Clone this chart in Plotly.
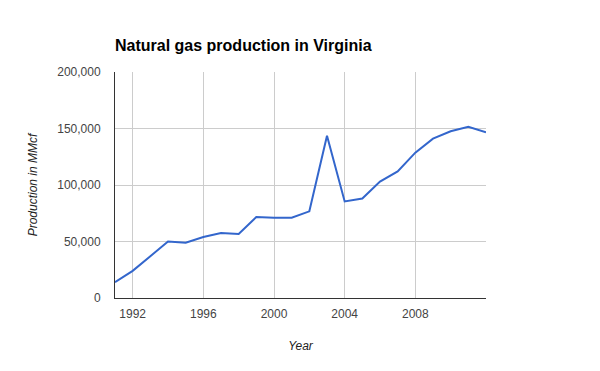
import plotly.graph_objects as go

years = list(range(1991, 2013))
production = [14000, 24000, 37000, 50000, 49000, 54000, 57500, 56600, 71700, 71000,
              71000, 76700, 143600, 85500, 88000, 103000, 112000, 128600, 141000,
              147500, 151600, 146600]
x_ticks = [1992, 1996, 2000, 2004, 2008]
y_ticks = [0, 50000, 100000, 150000, 200000]
y_tick_labels = ["0", "50,000", "100,000", "150,000", "200,000"]

fig = go.Figure(go.Scatter(x=years, y=production, mode="lines",
                           line=dict(color="#3366cc", width=2)))

fig.update_layout(
    width=600, height=371,
    margin=dict(l=115, r=114, t=72, b=73),
    paper_bgcolor="white", plot_bgcolor="white",
    font=dict(family="Liberation Sans, Arial", size=12, color="#444"),
    showlegend=False,
    title=dict(text="<b>Natural gas production in Virginia</b>",
               x=115/600, xanchor="left", xref="container",
               y=1-45/371, yanchor="middle", yref="container",
               font=dict(size=16, color="black", family="Liberation Sans, Arial")),
    xaxis=dict(range=[1991, 2012], tickvals=x_ticks, ticktext=[str(v) for v in x_ticks],
               showgrid=True, gridcolor="#cccccc", gridwidth=1,
               showline=True, linecolor="#333333", linewidth=1,
               zeroline=False, ticks="", ticklabelstandoff=5,
               tickfont=dict(size=12, color="#444"),
               title=dict(text="<i>Year</i>", standoff=21,
                          font=dict(size=12, color="#222"))),
    yaxis=dict(range=[0, 200000], tickvals=y_ticks, ticktext=y_tick_labels,
               showgrid=True, gridcolor="#cccccc", gridwidth=1,
               showline=True, linecolor="#333333", linewidth=1,
               zeroline=False, ticks="", ticklabelstandoff=11,
               tickfont=dict(size=12, color="#444"),
               title=dict(text="<i>Production in MMcf</i>", standoff=17,
                          font=dict(size=12, color="#222"))),
)

fig.write_html("out.html", config={"displayModeBar": False},
               post_script="document.body.style.margin='0';document.body.style.overflow='hidden';")
